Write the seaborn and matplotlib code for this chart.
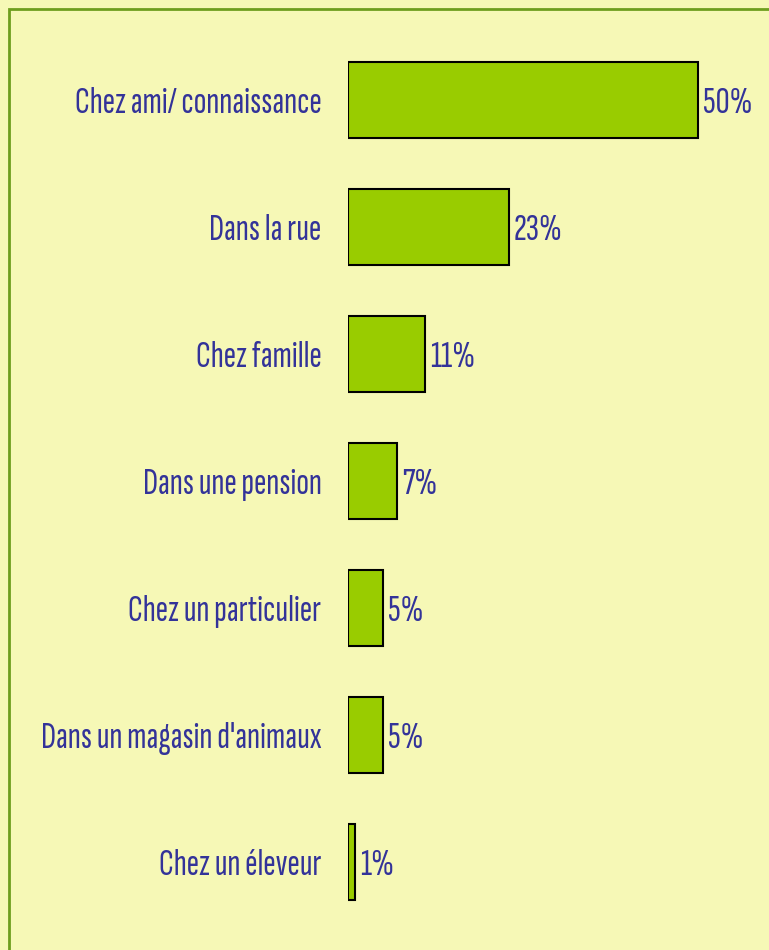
import matplotlib
matplotlib.use("Agg")
import matplotlib.pyplot as plt
import seaborn as sns
import pandas as pd
from matplotlib.patches import Rectangle

categories = [
    "Chez ami/ connaissance",
    "Dans la rue",
    "Chez famille",
    "Dans une pension",
    "Chez un particulier",
    "Dans un magasin d'animaux",
    "Chez un éleveur",
]
values = [50, 23, 11, 7, 5, 5, 1]

BG = "#F6F8B6"
GREEN = "#99CC00"
TEXT = "#333399"

sns.set_style("white")
plt.rcParams["font.family"] = ["Sofia Sans Extra Condensed", "Roboto Condensed", "DejaVu Sans"]

df = pd.DataFrame({"lieu": categories, "pct": values})

fig = plt.figure(figsize=(7.69, 9.5), dpi=100, facecolor=BG)
# cadre vert
fig.patches.append(Rectangle((9 / 769, -0.01), 1.0, 1 - 9 / 950 + 0.01,
                             transform=fig.transFigure, fill=False,
                             edgecolor="#6E9E1E", linewidth=2))

ax = fig.add_axes([348 / 769, 25 / 950, 420 / 769, 888 / 950])
ax.set_facecolor(BG)
sns.barplot(data=df, x="pct", y="lieu", orient="h", color=GREEN,
            edgecolor="black", linewidth=1.5, width=0.6, saturation=1, ax=ax)

ax.set_xlim(0, 60)
ax.set_ylim(6.5, -0.5)
ax.set_xlabel("")
ax.set_ylabel("")
ax.set_xticks([])
for s in ax.spines.values():
    s.set_visible(False)
ax.tick_params(axis="y", length=0, pad=19, labelsize=27, labelcolor=TEXT)
for lbl in ax.get_yticklabels():
    lbl.set_verticalalignment("center_baseline")

for i, v in enumerate(values):
    ax.text(v + 0.7, i, f"{v}%", va="center_baseline", ha="left",
            fontsize=28, color=TEXT)

fig.savefig("out.png", dpi=100, facecolor=BG)
